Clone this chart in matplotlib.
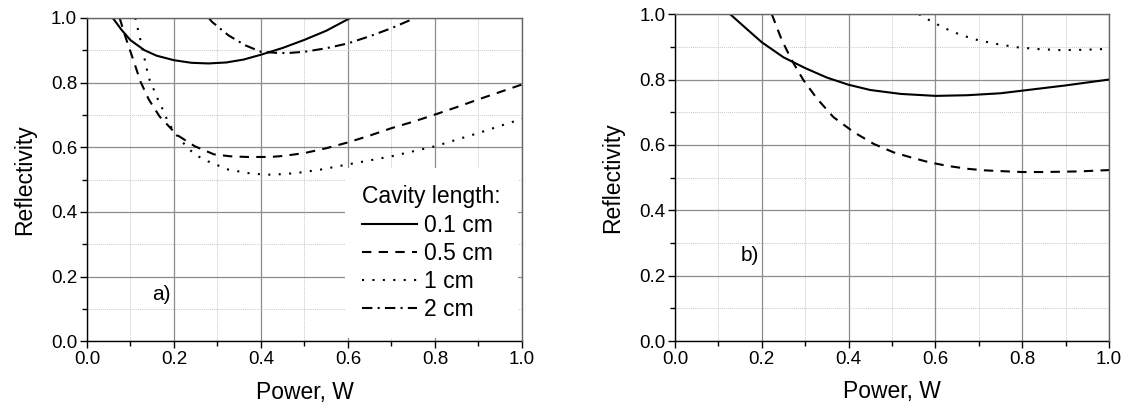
import matplotlib
matplotlib.use('Agg')
import matplotlib.pyplot as plt
from matplotlib.ticker import MultipleLocator

plt.rcParams['font.family'] = ['Liberation Sans', 'DejaVu Sans']

# Panel a) - four cavity lengths
a_x_01 = [0.059, 0.08, 0.10, 0.132, 0.16, 0.20, 0.24, 0.279, 0.32, 0.36, 0.40, 0.45, 0.50, 0.55, 0.606]
a_y_01 = [1.00, 0.962, 0.931, 0.900, 0.883, 0.869, 0.861, 0.859, 0.862, 0.871, 0.886, 0.907, 0.932, 0.960, 1.00]

a_x_05 = [0.075, 0.088, 0.108, 0.123, 0.142, 0.167, 0.207, 0.248, 0.292, 0.33, 0.368, 0.421, 0.45, 0.50, 0.55, 0.60, 0.652,
          0.70, 0.75, 0.80, 0.85, 0.90, 0.95, 1.00]
a_y_05 = [1.00, 0.943, 0.864, 0.803, 0.748, 0.695, 0.638, 0.603, 0.578, 0.572, 0.570, 0.570, 0.573, 0.582, 0.597, 0.615, 0.637,
          0.659, 0.679, 0.701, 0.724, 0.748, 0.771, 0.794]

a_x_1 = [0.111, 0.130, 0.136, 0.144, 0.154, 0.163, 0.175, 0.186, 0.202, 0.225, 0.248, 0.279, 0.325, 0.38, 0.426, 0.48,
         0.537, 0.60, 0.70, 0.80, 0.90, 1.00]
a_y_1 = [1.00, 0.890, 0.849, 0.808, 0.777, 0.748, 0.715, 0.679, 0.644, 0.608, 0.577, 0.556, 0.531, 0.518, 0.515, 0.520,
         0.531, 0.547, 0.572, 0.603, 0.644, 0.688]

a_x_2 = [0.280, 0.287, 0.325, 0.364, 0.40, 0.433, 0.46, 0.50, 0.55, 0.60, 0.652, 0.70, 0.755]
a_y_2 = [1.00, 0.988, 0.946, 0.915, 0.895, 0.892, 0.891, 0.895, 0.906, 0.921, 0.944, 0.968, 1.00]

# Panel b) - three curves
b_x_solid = [0.127, 0.165, 0.20, 0.25, 0.30, 0.35, 0.40, 0.45, 0.52, 0.60, 0.673, 0.75, 0.80, 0.90, 1.00]
b_y_solid = [1.00, 0.955, 0.914, 0.868, 0.835, 0.806, 0.784, 0.768, 0.756, 0.750, 0.752, 0.758, 0.766, 0.782, 0.800]

b_x_dash = [0.223, 0.246, 0.269, 0.296, 0.327, 0.365, 0.412, 0.458, 0.504, 0.543, 0.585, 0.627, 0.673, 0.715, 0.765,
            0.80, 0.846, 0.894, 0.933, 0.982, 1.00]
b_y_dash = [1.00, 0.921, 0.859, 0.798, 0.742, 0.685, 0.639, 0.603, 0.577, 0.562, 0.547, 0.536, 0.527, 0.522, 0.519,
            0.517, 0.517, 0.518, 0.519, 0.522, 0.523]

b_x_dot = [0.562, 0.592, 0.617, 0.64, 0.667, 0.694, 0.736, 0.786, 0.839, 0.889, 0.944, 1.00]
b_y_dot = [1.00, 0.977, 0.960, 0.946, 0.933, 0.922, 0.910, 0.899, 0.893, 0.890, 0.891, 0.894]

legend_labels = ['0.1 cm', '0.5 cm', '1 cm', '2 cm']
styles = ['-', (0, (4.5, 3.5)), (0, (1, 4)), (0, (5, 2.5, 1, 2.5))]


def style_axes(ax):
    ax.set_xlim(0, 1)
    ax.set_ylim(0, 1)
    ax.xaxis.set_major_locator(MultipleLocator(0.2))
    ax.xaxis.set_minor_locator(MultipleLocator(0.1))
    ax.yaxis.set_major_locator(MultipleLocator(0.2))
    ax.yaxis.set_minor_locator(MultipleLocator(0.1))
    ax.xaxis.set_major_formatter(lambda v, p: f'{v:.1f}')
    ax.yaxis.set_major_formatter(lambda v, p: f'{v:.1f}')
    ax.grid(which='major', color='#8c8c8c', linewidth=0.9)
    ax.grid(which='minor', color='#c8c8c8', linewidth=0.7, linestyle=(0, (1, 1)))
    ax.set_axisbelow(True)
    ax.tick_params(which='major', direction='out', length=5, width=1, labelsize=13.5, pad=2,
                   top=False, right=False)
    ax.tick_params(which='minor', direction='out', length=3.5, width=1, top=False, right=False)
    for s in ['left', 'bottom']:
        ax.spines[s].set_color('black')
        ax.spines[s].set_linewidth(1.0)
    for s in ['top', 'right']:
        ax.spines[s].set_color('#666666')
        ax.spines[s].set_linewidth(1.0)
        ax.spines[s].set_zorder(6)
    ax.set_xlabel('Power, W', fontsize=16.5, labelpad=9)
    ax.set_ylabel('Reflectivity', fontsize=16.5, labelpad=11)


fig = plt.figure(figsize=(11.25, 4.05), dpi=100)
ax1 = fig.add_axes([0.0773, 0.157, 0.3867, 0.799])
ax2 = fig.add_axes([0.600, 0.158, 0.3858, 0.807])

lw = 1.5
ax1.plot(a_x_01, a_y_01, color='black', lw=lw, linestyle=styles[0], label=legend_labels[0])
ax1.plot(a_x_05, a_y_05, color='black', lw=lw, linestyle=styles[1], label=legend_labels[1])
ax1.plot(a_x_1, a_y_1, color='black', lw=lw, linestyle=styles[2], label=legend_labels[2])
ax1.plot(a_x_2, a_y_2, color='black', lw=lw, linestyle=styles[3], label=legend_labels[3])
style_axes(ax1)
ax1.text(0.172, 0.145, 'a)', fontsize=15, ha='center', va='center')

leg = ax1.legend(title='Cavity length:', loc='upper left', bbox_to_anchor=(0.592, 0.535),
                 fontsize=16.5, title_fontsize=16.5, frameon=True, fancybox=False,
                 facecolor='white', edgecolor='none', framealpha=1,
                 handlelength=2.4, handletextpad=0.3, labelspacing=0.22,
                 borderpad=0.75, borderaxespad=0)
leg._legend_box.align = 'left'

ax2.plot(b_x_solid, b_y_solid, color='black', lw=lw, linestyle=styles[0])
ax2.plot(b_x_dash, b_y_dash, color='black', lw=lw, linestyle=styles[1])
ax2.plot(b_x_dot, b_y_dot, color='black', lw=lw, linestyle=styles[2])
style_axes(ax2)
ax2.text(0.173, 0.263, 'b)', fontsize=15, ha='center', va='center')

fig.savefig('out.png', dpi=100)
